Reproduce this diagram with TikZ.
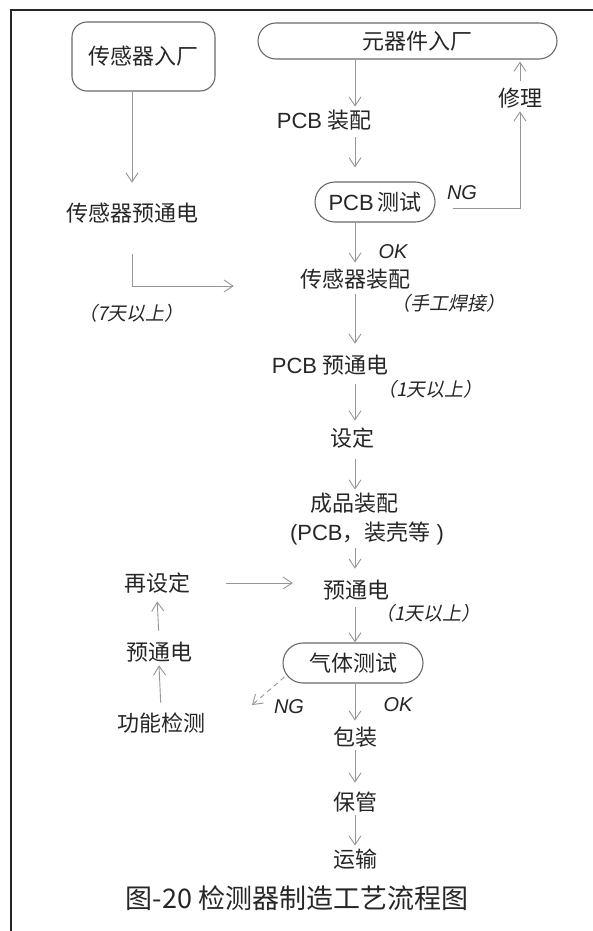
\documentclass[tikz,border=0pt]{standalone}
\usepackage{fontspec}
\setmainfont{Noto Sans CJK SC}
\newfontfamily\latin{Liberation Sans}
\newfontfamily\xiecjk{Noto Sans CJK SC}[FakeSlant=0.2]
\usetikzlibrary{arrows.meta}
\definecolor{kuangse}{RGB}{105,105,105}
\definecolor{jiantouse}{RGB}{150,150,150}
\tikzset{
  kuang/.style   = {draw=kuangse, line width=1.1pt, minimum height=40pt, inner sep=3pt,
                    text=black!85, font=\fontsize{22}{26}\selectfont},
  wenzi/.style   = {inner sep=3pt, text=black!85, font=\fontsize{22}{26}\selectfont},
  zhushi/.style  = {inner sep=1pt, text=black!85, font=\fontsize{19}{22}\selectfont\xiecjk},
  biaoji/.style  = {inner sep=1pt, text=black!85, font=\fontsize{20}{22}\selectfont\latin\itshape},
  jiantou/.style = {-{Straight Barb[length=9pt,width=12pt]}, draw=jiantouse, line width=0.9pt},
  xuxian/.style  = {jiantou, dash pattern=on 5pt off 4pt}
}

\begin{document}
\begin{tikzpicture}[x=1pt, y=-1pt]
    \useasboundingbox (0,0) rectangle (593,931);
    \draw[line width=2pt, black!85] (593,10) -- (11,10) -- (11,931);

    \node[kuang, rounded corners=15pt, minimum width=143pt, minimum height=69pt] (rucg) at (143.5,56.5) {传感器入厂};
    \node[kuang, rounded corners=18pt, minimum width=299pt, minimum height=36pt] (yqj) at (407.5,41) {\hspace*{20pt}元器件入厂};
    \node[wenzi] (pcbzp) at (324,120) {{\latin PCB} 装配};
    \node[wenzi] (xiuli) at (520,98) {修理};
    \node[kuang, rounded corners=20pt, minimum width=120pt] (pcbcs) at (375,202) {{\latin PCB}\,测试};
    \node[biaoji] (ng1) at (462,193) {NG};
    \node[wenzi] (cgyt) at (132,213) {传感器预通电};
    \node[biaoji] (ok1) at (393,252) {OK};
    \node[wenzi] (cgzp) at (355,279) {传感器装配};
    \node[zhushi] (hanjie) at (448,303) {（手工焊接）};
    \node[zhushi] (qitian) at (131,313) {（7天以上）};
    \node[wenzi] (pcbyt) at (330,365) {{\latin PCB} 预通电};
    \node[zhushi] (yitian1) at (430,389) {（1天以上）};
    \node[wenzi] (sheding) at (352,438) {设定};
    \node[wenzi] (cpzp) at (354,503) {成品装配};
    \node[wenzi] (zhuangke) at (367,533) {{\latin (PCB}，装壳等{\latin\ )}};
    \node[wenzi] (yutong) at (356,590) {预通电};
    \node[zhushi] (yitian2) at (428,613) {（1天以上）};
    \node[wenzi] (zaisd) at (157,583) {再设定};
    \node[wenzi] (yutongz) at (159,652) {预通电};
    \node[wenzi] (gongneng) at (161,723) {功能检测};
    \node[kuang, rounded corners=20pt, minimum width=140pt] (qiti) at (353,663) {气体测试};
    \node[biaoji] (ng2) at (289,707) {NG};
    \node[biaoji] (ok2) at (398,705) {OK};
    \node[wenzi] (baozhuang) at (355,737) {包装};
    \node[wenzi] (baoguan) at (355,802) {保管};
    \node[wenzi] (yunshu) at (355,859) {运输};
    \node[text=black!85, font=\fontsize{27}{30}\selectfont] (tuming) at (297,898) {图-20 检测器制造工艺流程图};
    \coordinate (ngzhi) at (252,705);

    % left branch
    \draw[jiantou, shorten >=17pt] (rucg.south -| cgyt) -- (cgyt.north);
    \draw[jiantou, shorten <=28pt, shorten >=63pt] (cgyt.south) |- ([yshift=-7pt]cgzp.west);

    % main line
    \draw[jiantou] (yqj.south -| cgzp) -- (pcbzp.north -| cgzp);
    \draw[jiantou, shorten <=4pt, shorten >=14pt] (pcbzp.south -| cgzp) -- (pcbcs.north -| cgzp);
    \draw[jiantou, shorten >=3pt] (pcbcs.south -| cgzp) -- (cgzp.north);
    \draw[jiantou, shorten <=2pt, shorten >=8pt] (cgzp.south) -- (pcbyt.north -| cgzp);
    \draw[jiantou, shorten <=6pt, shorten >=4pt] (pcbyt.south -| cgzp) -- (sheding.north -| cgzp);
    \draw[jiantou, shorten <=8pt] (sheding.south -| cgzp) -- (cpzp.north -| cgzp);
    \draw[jiantou, shorten >=8pt] (zhuangke.south -| cgzp) -- (yutong.north -| cgzp);
    \draw[jiantou, shorten <=4pt] (yutong.south -| cgzp) -- (qiti.north -| cgzp);
    \draw[jiantou, shorten >=3pt] (qiti.south -| cgzp) -- (baozhuang.north);
    \draw[jiantou, shorten >=6pt] (baozhuang.south) -- (baoguan.north);
    \draw[jiantou] (baoguan.south) -- (yunshu.north);

    % repair loop
    \draw[jiantou] ([xshift=17pt, yshift=-6pt]pcbcs.east) -| (xiuli.south);
    \draw[jiantou, shorten <=4pt, shorten >=2pt] (xiuli.north) -- (xiuli.north |- yqj.south);

    % rework loop
    \draw[jiantou, shorten <=33pt, shorten >=27pt] (zaisd.east) -- (zaisd.east -| yutong.west);
    \draw[jiantou, shorten <=8pt, shorten >=5pt] (yutongz.north) -- (zaisd.south);
    \draw[jiantou, shorten <=7pt] (gongneng.north) -- (yutongz.south);
    \draw[xuxian] ([xshift=2pt, yshift=-14pt]qiti.west) -- (ngzhi);
\end{tikzpicture}
\end{document}
